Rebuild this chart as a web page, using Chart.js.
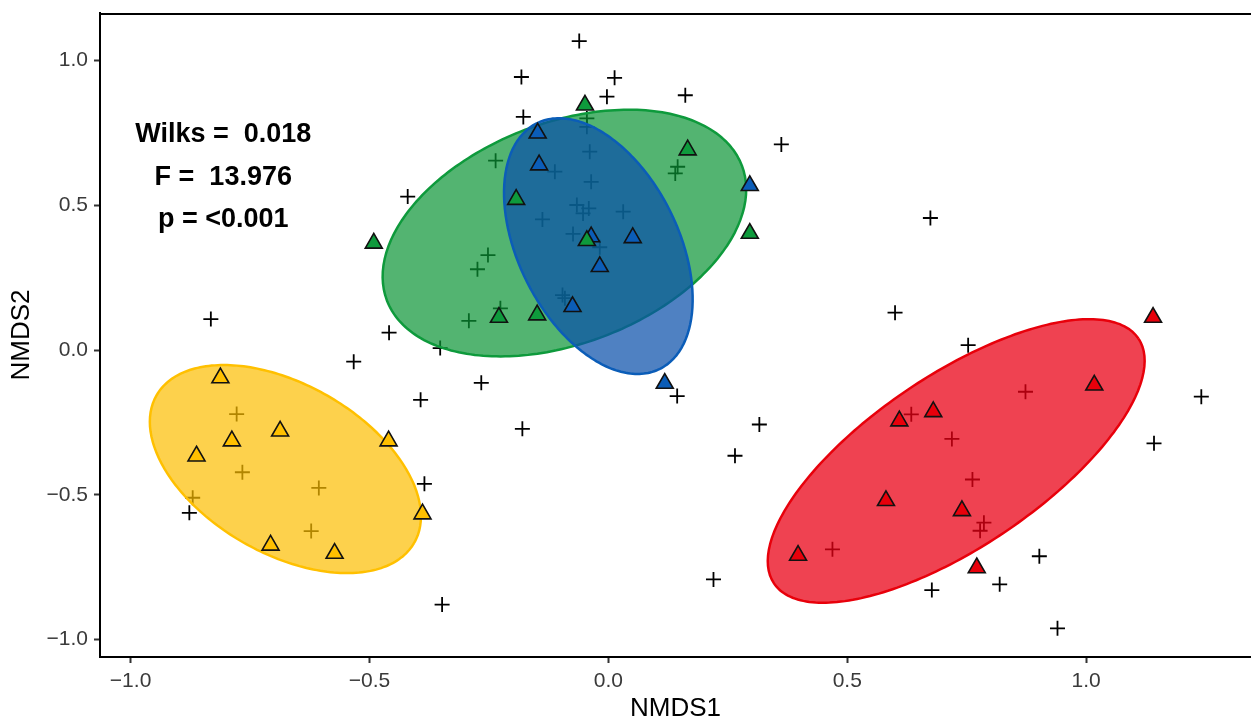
<!DOCTYPE html>
<html>
<head>
<meta charset="utf-8">
<script src="https://cdn.jsdelivr.net/npm/chart.js@4.4.0/dist/chart.umd.min.js"></script>
<style>
  html, body { margin: 0; padding: 0; background: #fff; }
</style>
</head>
<body>
<canvas id="nmds" width="1251" height="722"></canvas>
<script>
// plus marks (all points, ellipses are drawn over them)
const plusX = [-0.061, -0.182, 0.013, -0.003, 0.161, -0.178, 0.362, -0.420, -0.832, -0.459,
  -0.533, -0.393, -0.385, -0.877, -0.348, -0.352, -0.266, -0.180, 0.144, 0.316,
  0.265, 0.220, 0.600, 0.753, 1.241, 1.142, 0.902, 0.819, 0.677, 0.940, 0.674,
  -0.778, -0.766, -0.606, -0.622, -0.870,
  0.873, 0.634, 0.719, 0.762, 0.786, 0.778, 0.469,
  -0.236, -0.112, -0.039, -0.036, -0.066, -0.041, -0.053, 0.031, -0.138, -0.074,
  -0.018, 0.145, 0.140, -0.252, -0.274, -0.096, -0.091, -0.226, -0.292, -0.045, -0.045]
const plusY = [1.067, 0.943, 0.940, 0.875, 0.880, 0.805, 0.710, 0.530, 0.107, 0.060,
  -0.040, -0.172, -0.462, -0.562, -0.879, 0.007, -0.113, -0.272, -0.159, -0.257,
  -0.365, -0.792, 0.129, 0.017, -0.161, -0.322, -0.712, -0.809, -0.829, -0.961, 0.456,
  -0.221, -0.422, -0.476, -0.625, -0.510,
  -0.144, -0.222, -0.307, -0.447, -0.596, -0.624, -0.688,
  0.654, 0.616, 0.685, 0.581, 0.501, 0.489, 0.472, 0.478, 0.451, 0.401,
  0.355, 0.633, 0.610, 0.328, 0.279, 0.190, 0.179, 0.144, 0.101, 0.800, 0.771]

// triangles per group
const yellowX = [-0.812, -0.687, -0.788, -0.862, -0.460, -0.389, -0.707, -0.573]
const yellowY = [-0.096, -0.280, -0.314, -0.366, -0.314, -0.566, -0.674, -0.702]
const greenX = [-0.049, 0.166, -0.193, 0.296, -0.045, -0.229, -0.149, -0.491]
const greenY = [0.846, 0.691, 0.520, 0.403, 0.378, 0.113, 0.121, 0.369]
const blueX = [-0.148, -0.145, 0.296, -0.036, 0.051, -0.018, -0.075, 0.118]
const blueY = [0.749, 0.639, 0.568, 0.391, 0.388, 0.288, 0.150, -0.115]
const redX = [1.140, 1.017, 0.680, 0.609, 0.581, 0.740, 0.771, 0.397]
const redY = [0.113, -0.121, -0.213, -0.245, -0.520, -0.555, -0.752, -0.709]

// ellipses: centre x, centre y, then the two semi-axis vectors (data units)
const yellowEllipse = [-0.676, -0.411, 0.2697, -0.2546, -0.0880, -0.2535]
const greenEllipse = [-0.092, 0.404, 0.3715, 0.2328, 0.0821, -0.3568]
const blueEllipse = [-0.021, 0.359, 0.1292, -0.4238, -0.1493, -0.1240]
const redEllipse = [0.728, -0.383, 0.3814, 0.4228, 0.1005, -0.2470]

const xTicks = [-1, -0.5, 0, 0.5, 1]
const yTicks = [-1, -0.5, 0, 0.5, 1]
const statLines = ['Wilks =  0.018', 'F =  13.976', 'p = <0.001']

const FONT = "'Liberation Sans', Arial, sans-serif"

const pts = (xs, ys) => xs.map((x, i) => ({ x: x, y: ys[i] }))

const ellipsePoints = (e) => {
    const out = []
    for (let i = 0; i <= 120; i++) {
        const t = i / 120 * 2 * Math.PI
        out.push({
            x: e[0] + e[2] * Math.cos(t) + e[4] * Math.sin(t),
            y: e[1] + e[3] * Math.cos(t) + e[5] * Math.sin(t)
        })
    }
    return out
}

// tiny tension so chart.js does not take the fast path (it merges points sharing an x pixel)
const ellipseSet = (e, line, fill, order) => ({
    type: 'line',
    data: ellipsePoints(e),
    showLine: true,
    fill: 'shape',
    borderColor: line,
    backgroundColor: fill,
    borderWidth: 2.5,
    pointRadius: 0,
    tension: 0.001,
    capBezierPoints: false,
    order: order
})

const triSet = (xs, ys, color, order) => ({
    data: pts(xs, ys),
    pointStyle: 'triangle',
    pointRadius: 9.8,
    backgroundColor: color,
    borderColor: '#111',
    borderWidth: 1.6,
    order: order
})

const fmt = (v) => (v < 0 ? '\u2212' : '') + Math.abs(v).toFixed(1)

// text block with the test statistics, placed in data units
const statsText = {
    id: 'statsText',
    afterDatasetsDraw(chart) {
        const { ctx, scales } = chart
        const x = scales.x.getPixelForValue(-0.806)
        const ys = [0.744, 0.596, 0.452]
        ctx.save()
        ctx.font = 'bold 27px ' + FONT
        ctx.fillStyle = '#000'
        ctx.textAlign = 'center'
        ctx.textBaseline = 'middle'
        statLines.forEach((s, i) => ctx.fillText(s, x, scales.y.getPixelForValue(ys[i])))
        ctx.restore()
    }
}

// top side of the panel box
const frame = {
    id: 'frame',
    afterDraw(chart) {
        const { ctx, chartArea: a } = chart
        ctx.save()
        ctx.strokeStyle = '#000'
        ctx.lineWidth = 2
        ctx.beginPath()
        ctx.moveTo(a.left, a.top + 1)
        ctx.lineTo(a.right, a.top + 1)
        ctx.stroke()
        ctx.restore()
    }
}

const axisTicks = (s, list) => { s.ticks = list.map(v => ({ value: v })) }

new Chart(document.getElementById('nmds'), {
    type: 'scatter',
    data: {
        datasets: [
            triSet(greenX, greenY, '#0E9A3C', 1),
            triSet(yellowX, yellowY, '#FFC000', 1),
            triSet(redX, redY, '#E8000B', 1),
            triSet(blueX, blueY, '#0B5DB8', 2),
            ellipseSet(blueEllipse, '#0B5DB8', 'rgba(11, 80, 170, 0.72)', 4),
            ellipseSet(greenEllipse, '#0E9A3C', 'rgba(10, 148, 52, 0.7)', 5),
            ellipseSet(yellowEllipse, '#FFC000', 'rgba(252, 190, 0, 0.7)', 5),
            ellipseSet(redEllipse, '#E8000B', 'rgba(234, 0, 20, 0.74)', 5),
            {
                data: pts(plusX, plusY),
                pointStyle: 'cross',
                pointRadius: 7.5,
                borderColor: '#000',
                borderWidth: 1.8,
                order: 10
            }
        ]
    },
    options: {
        responsive: false,
        animation: false,
        events: [],
        layout: { autoPadding: false, padding: { top: 13, right: 0, left: 0, bottom: 0 } },
        plugins: { legend: { display: false }, tooltip: { enabled: false } },
        scales: {
            x: {
                type: 'linear',
                min: -1.064,
                max: 1.345,
                afterBuildTicks: s => axisTicks(s, xTicks),
                afterFit: s => { s.height = 65; s.paddingLeft = 0; s.paddingRight = 0 },
                ticks: {
                    callback: fmt,
                    font: { family: FONT, size: 21 },
                    color: '#3a3a3a',
                    padding: 6,
                    maxRotation: 0,
                    autoSkip: false
                },
                grid: { drawOnChartArea: false, tickLength: 6, tickColor: '#333', tickWidth: 2 },
                border: { color: '#000', width: 2 },
                title: {
                    display: true,
                    text: 'NMDS1',
                    color: '#000',
                    font: { family: FONT, size: 26, lineHeight: 1 },
                    padding: 0
                }
            },
            y: {
                type: 'linear',
                min: -1.060,
                max: 1.164,
                afterBuildTicks: s => axisTicks(s, yTicks),
                afterFit: s => { s.width = 100; s.paddingTop = 0; s.paddingBottom = 0 },
                ticks: {
                    callback: fmt,
                    font: { family: FONT, size: 21 },
                    color: '#3a3a3a',
                    padding: 6,
                    autoSkip: false
                },
                grid: { drawOnChartArea: false, tickLength: 6, tickColor: '#333', tickWidth: 2 },
                border: { color: '#000', width: 2 },
                title: {
                    display: true,
                    text: 'NMDS2',
                    color: '#000',
                    font: { family: FONT, size: 26, lineHeight: 1 },
                    padding: { top: 9, bottom: 0 }
                }
            }
        }
    },
    plugins: [statsText, frame]
})
</script>
</body>
</html>
